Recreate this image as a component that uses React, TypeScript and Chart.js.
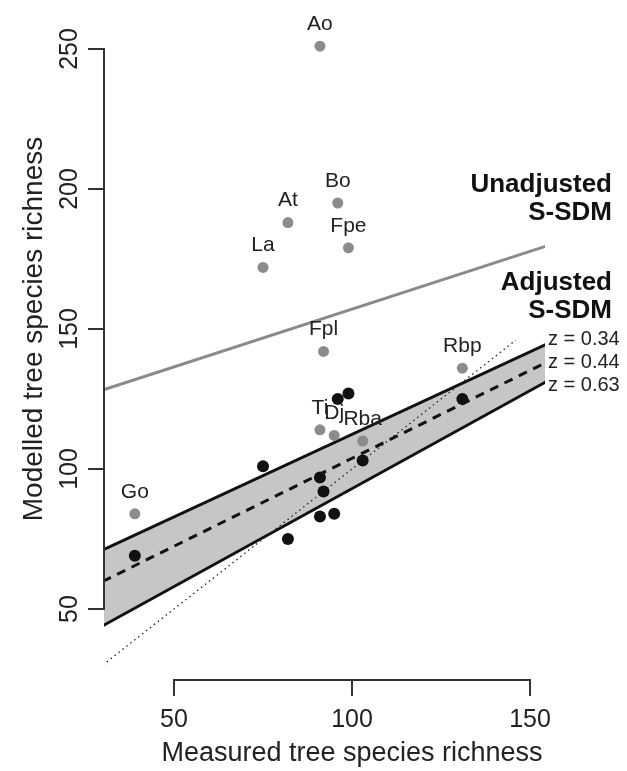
import { useEffect, useRef } from 'react';
import { Chart, registerables } from 'chart.js';

Chart.register(...registerables);

// ---- data ----
const grayNames = ['Ao', 'Bo', 'At', 'Fpe', 'La', 'Fpl', 'Rbp', 'Ti', 'Dj', 'Rba', 'Go'];
const grayMeasured = [91, 96, 82, 99, 75, 92, 131, 91, 95, 103, 39];
const grayModelled = [251, 195, 188, 179, 172, 142, 136, 114, 112, 110, 84];
const blackMeasured = [99, 96, 131, 75, 103, 91, 92, 91, 95, 82, 39];
const blackModelled = [127, 125, 125, 101, 103, 97, 92, 83, 84, 75, 69];
const lineX = [30, 155];
const unadjustedLine = [128.2, 179.8];
const zUpper = [71.1, 144.8]; // z = 0.34
const zMid = [59.85, 138.35]; // z = 0.44
const zLower = [44.0, 131.5]; // z = 0.63
const oneToOneX = [30, 146];
const xTicks = [50, 100, 150];
const yTicks = [50, 100, 150, 200, 250];
const zLabels = ['z = 0.34', 'z = 0.44', 'z = 0.63'];
const zLabelY = [146.1, 138.2, 130.0];
const unadjustedText = ['Unadjusted', 'S-SDM'];
const adjustedText = ['Adjusted', 'S-SDM'];
const xTitle = 'Measured tree species richness';
const yTitle = 'Modelled tree species richness';

const FONT = '"Liberation Sans", Arial, Helvetica, sans-serif';

const pts = (xs: number[], ys: number[]) => xs.map((v, i) => ({ x: v, y: ys[i] }));

const annot = {
  id: 'annot',
  afterDatasetsDraw(chart: any) {
    const { ctx, chartArea } = chart;
    const x = chart.scales.x;
    const y = chart.scales.y;
    ctx.save();
    // point labels
    ctx.font = `21px ${FONT}`;
    ctx.fillStyle = '#222';
    ctx.textAlign = 'center';
    ctx.textBaseline = 'middle';
    grayNames.forEach((n, i) => {
      ctx.fillText(n, x.getPixelForValue(grayMeasured[i]), y.getPixelForValue(grayModelled[i]) - 22);
    });
    // z labels
    ctx.font = `20px ${FONT}`;
    ctx.textAlign = 'left';
    zLabels.forEach((t, i) => {
      ctx.fillText(t, chartArea.right + 3, y.getPixelForValue(zLabelY[i]));
    });
    // bold annotations
    ctx.font = `bold 26px ${FONT}`;
    ctx.fillStyle = '#111';
    ctx.textAlign = 'right';
    const rx = chartArea.right + 67;
    unadjustedText.forEach((t, i) => ctx.fillText(t, rx, 185 + i * 28));
    adjustedText.forEach((t, i) => ctx.fillText(t, rx, 283 + i * 28));
    // axis lines (R style, spanning tick range)
    ctx.strokeStyle = '#333';
    ctx.lineWidth = 2;
    ctx.beginPath();
    ctx.moveTo(x.getPixelForValue(xTicks[0]) - 1, chartArea.bottom);
    ctx.lineTo(x.getPixelForValue(xTicks[xTicks.length - 1]) + 1, chartArea.bottom);
    ctx.moveTo(chartArea.left, y.getPixelForValue(yTicks[0]) + 1);
    ctx.lineTo(chartArea.left, y.getPixelForValue(yTicks[yTicks.length - 1]) - 1);
    ctx.stroke();
    // y tick labels, rotated
    ctx.font = `25px ${FONT}`;
    ctx.fillStyle = '#222';
    ctx.textAlign = 'center';
    ctx.textBaseline = 'middle';
    yTicks.forEach((v) => {
      ctx.save();
      ctx.translate(chartArea.left - 34, y.getPixelForValue(v));
      ctx.rotate(-Math.PI / 2);
      ctx.fillText(String(v), 0, 0);
      ctx.restore();
    });
    // axis titles, centred on the tick range
    ctx.font = `27px ${FONT}`;
    const xMid = (xTicks[0] + xTicks[xTicks.length - 1]) / 2;
    ctx.fillText(xTitle, x.getPixelForValue(xMid), 754);
    const yMid = (yTicks[0] + yTicks[yTicks.length - 1]) / 2;
    ctx.save();
    ctx.font = `28px ${FONT}`;
    ctx.translate(34, y.getPixelForValue(yMid));
    ctx.rotate(-Math.PI / 2);
    ctx.fillText(yTitle, 0, 0);
    ctx.restore();
    ctx.restore();
  },
};

export default function App() {
  const ref = useRef<HTMLCanvasElement>(null);
  useEffect(() => {
    const lineBase = { pointRadius: 0, tension: 0, fill: false };
    const chart = new Chart(ref.current as HTMLCanvasElement, {
      type: 'line',
      data: {
        datasets: [
          {
            ...lineBase,
            label: 'z = 0.34',
            data: pts(lineX, zUpper),
            borderColor: '#111',
            borderWidth: 3,
            fill: { target: 2 },
            backgroundColor: '#c6c6c6',
            order: 5,
          } as any,
          {
            ...lineBase,
            label: 'z = 0.44',
            data: pts(lineX, zMid),
            borderColor: '#111',
            borderWidth: 3,
            borderDash: [9, 7],
            order: 4,
          },
          {
            ...lineBase,
            label: 'z = 0.63',
            data: pts(lineX, zLower),
            borderColor: '#111',
            borderWidth: 3,
            order: 4,
          },
          {
            ...lineBase,
            label: 'Unadjusted',
            data: pts(lineX, unadjustedLine),
            borderColor: '#8a8a8a',
            borderWidth: 3,
            order: 4,
          },
          {
            ...lineBase,
            label: '1:1',
            data: pts(oneToOneX, oneToOneX),
            borderColor: '#222',
            borderWidth: 1.3,
            borderDash: [1.5, 3.5],
            order: 3,
          },
          {
            label: 'Unadjusted S-SDM',
            data: pts(grayMeasured, grayModelled),
            showLine: false,
            pointRadius: 5.5,
            pointBackgroundColor: '#8c8c8c',
            pointBorderWidth: 0,
            borderColor: '#8c8c8c',
            order: 1,
          },
          {
            label: 'Adjusted S-SDM',
            data: pts(blackMeasured, blackModelled),
            showLine: false,
            pointRadius: 6,
            pointBackgroundColor: '#111',
            pointBorderWidth: 0,
            borderColor: '#111',
            order: 0,
          },
        ],
      },
      options: {
        responsive: false,
        animation: false,
        devicePixelRatio: 1,
        layout: { padding: { top: 25, right: 82, bottom: 0, left: 0 } },
        plugins: { legend: { display: false }, tooltip: { enabled: false } },
        scales: {
          x: {
            type: 'linear',
            min: 30.34,
            max: 154.21,
            afterBuildTicks: (s: any) => {
              s.ticks = xTicks.map((v) => ({ value: v }));
            },
            afterFit: (s: any) => {
              s.height = 91;
            },
            grid: { drawOnChartArea: false, drawTicks: true, tickLength: 16, color: '#333', lineWidth: 2 },
            border: { display: false },
            ticks: { font: { size: 25, family: FONT }, color: '#222', padding: 9, maxRotation: 0, autoSkip: false },
            title: { display: false },
          },
          y: {
            type: 'linear',
            min: 24.64,
            max: 258.57,
            afterBuildTicks: (s: any) => {
              s.ticks = yTicks.map((v) => ({ value: v }));
            },
            afterFit: (s: any) => {
              s.width = 104;
            },
            grid: { drawOnChartArea: false, drawTicks: true, tickLength: 16, color: '#333', lineWidth: 2 },
            border: { display: false },
            ticks: { display: false },
            title: { display: false },
          },
        },
      } as any,
      plugins: [annot],
    });
    return () => chart.destroy();
  }, []);
  return (
    <div style={{ position: 'absolute', left: 0, top: 0, width: 627, height: 771, background: '#fff' }}>
      <canvas ref={ref} width={627} height={771} style={{ width: 627, height: 771, display: 'block' }} />
    </div>
  );
}
